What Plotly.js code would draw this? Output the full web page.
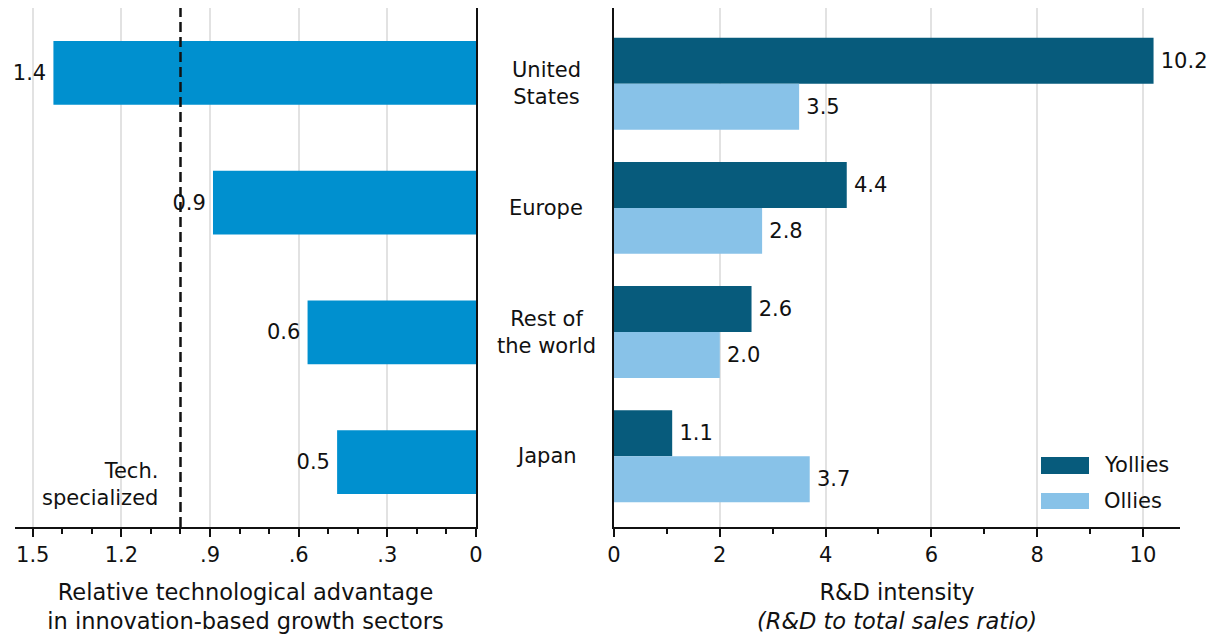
<!DOCTYPE html>
<html>
<head>
<meta charset="utf-8">
<script src="https://cdn.plot.ly/plotly-3.0.1.min.js"></script>
<style>html,body{margin:0;padding:0;background:#fff;}#chart{width:1213px;height:635px;}</style>
</head>
<body>
<div id="chart"></div>
<script>
// Left panel: relative technological advantage
const sectorPos = [0, 1, 2, 3];
const sectorValues = [1.43, 0.89, 0.57, 0.47];
const sectorLabels = ["1.4", "0.9", "0.6", "0.5"];
const leftTickVals = [1.5, 1.2, 0.9, 0.6, 0.3, 0];
const leftTickText = ["1.5", "1.2", ".9", ".6", ".3", "0"];

// Right panel: R&D intensity
const regions = ["United<br>States", "Europe", "Rest of<br>the world", "Japan"];
const regionPos = [0, 1, 2, 3];
const yollies = [10.2, 4.4, 2.6, 1.1];
const ollies = [3.5, 2.8, 2.0, 3.7];
const yolliesLabels = ["10.2", "4.4", "2.6", "1.1"];
const olliesLabels = ["3.5", "2.8", "2.0", "3.7"];
const rightTickVals = [0, 2, 4, 6, 8, 10];

const FONT = "DejaVu Sans, Noto Sans, sans-serif";
const INK = "#111111";
const C_LEFT = "#0090CF";
const C_DARK = "#075B7C";
const C_LIGHT = "#88C2E8";

const traces = [
  {
    type: "bar", orientation: "h", x: sectorValues, y: sectorPos,
    xaxis: "x", yaxis: "y", width: 0.49,
    marker: {color: C_LEFT},
    text: sectorLabels, texttemplate: "%{text}\u2009", textposition: "outside", cliponaxis: false, constraintext: "none",
    textfont: {family: FONT, size: 21, color: INK}, hoverinfo: "x"
  },
  {
    type: "bar", orientation: "h", name: "Yollies", x: yollies, y: regionPos,
    xaxis: "x2", yaxis: "y2", width: 0.37, offset: -0.37,
    marker: {color: C_DARK},
    text: yolliesLabels, texttemplate: "\u2009%{text}", textposition: "outside", cliponaxis: false, constraintext: "none",
    textfont: {family: FONT, size: 21, color: INK}, hoverinfo: "x"
  },
  {
    type: "bar", orientation: "h", name: "Ollies", x: ollies, y: regionPos,
    xaxis: "x2", yaxis: "y2", width: 0.37, offset: 0,
    marker: {color: C_LIGHT},
    text: olliesLabels, texttemplate: "\u2009%{text}", textposition: "outside", cliponaxis: false, constraintext: "none",
    textfont: {family: FONT, size: 21, color: INK}, hoverinfo: "x"
  }
];

const W = 1213, H = 635, ML = 15, MR = 33, MT = 8, MB = 108;
const PW = W - ML - MR, PH = H - MT - MB;
const px = v => (v - ML) / PW;
const py = v => 1 - (v - MT) / PH;

const axisCommon = {
  showline: true, linewidth: 2, linecolor: INK, zeroline: false,
  ticks: "outside", ticklen: 8, tickwidth: 2, tickcolor: INK,
  tickfont: {family: FONT, size: 21, color: INK},
  showgrid: true, gridcolor: "#e2e2e2", gridwidth: 2, fixedrange: true
};

const annotations = regions.map((r, i) => ({
  text: r, xref: "x2 domain", yref: "y2", x: (546 - 614) / (1180 - 614), y: regionPos[i],
  xanchor: "center", yanchor: "middle", align: "center", showarrow: false,
  font: {family: FONT, size: 21, color: INK}
}));
annotations.push({
  text: "Tech.<br>specialized", xref: "x", yref: "y", x: 1.07, y: 3.17,
  xanchor: "right", yanchor: "middle", align: "right", showarrow: false,
  font: {family: FONT, size: 21, color: INK}
});
annotations.push({
  text: "Yollies", xref: "paper", yref: "paper", x: px(1102), y: py(465),
  xanchor: "left", yanchor: "middle", showarrow: false,
  font: {family: FONT, size: 21, color: INK}
});
annotations.push({
  text: "Ollies", xref: "paper", yref: "paper", x: px(1102), y: py(501),
  xanchor: "left", yanchor: "middle", showarrow: false,
  font: {family: FONT, size: 21, color: INK}
});

const layout = {
  width: W, height: H,
  margin: {l: ML, r: MR, t: MT, b: MB},
  paper_bgcolor: "#ffffff", plot_bgcolor: "#ffffff",
  font: {family: FONT, size: 21, color: INK},
  showlegend: false,
  barmode: "overlay",
  xaxis: Object.assign({}, axisCommon, {
    domain: [0, (476 - ML) / PW], range: [1.56, 0], anchor: "y",
    tickmode: "array", tickvals: leftTickVals, ticktext: leftTickText,
    minor: {tickmode: "linear", tick0: 0, dtick: 0.1, ticks: "outside", ticklen: 5, tickwidth: 2, tickcolor: INK, showgrid: false},
    title: {text: "Relative technological advantage<br>in innovation-based growth sectors", standoff: 18,
            font: {family: FONT, size: 22.5, color: INK}}
  }),
  yaxis: {
    domain: [0, 1], range: [3.5, -0.5], anchor: "x", side: "right",
    showline: true, linewidth: 2, linecolor: INK, showticklabels: false, ticks: "",
    showgrid: false, zeroline: false, fixedrange: true
  },
  xaxis2: Object.assign({}, axisCommon, {
    domain: [(614 - ML) / PW, 1], range: [0, 10.7], anchor: "y2",
    tickmode: "array", tickvals: rightTickVals,
    minor: {tickmode: "linear", tick0: 0, dtick: 1, ticks: "outside", ticklen: 5, tickwidth: 2, tickcolor: INK, showgrid: false},
    title: {text: "R&D intensity<br><i>(R&D to total sales ratio)</i>", standoff: 18,
            font: {family: FONT, size: 22.5, color: INK}}
  }),
  yaxis2: {
    domain: [0, 1], range: [3.57, -0.61], anchor: "x2", side: "left",
    showline: true, linewidth: 2, linecolor: INK, showticklabels: false, ticks: "",
    showgrid: false, zeroline: false, fixedrange: true
  },
  shapes: [
    {type: "line", xref: "x", yref: "y domain", x0: 1, x1: 1, y0: 0, y1: 1,
     line: {color: INK, width: 2.5, dash: "10px,5px"}},
    {type: "rect", xref: "paper", yref: "paper", x0: px(1041), x1: px(1089), y0: py(474), y1: py(457),
     fillcolor: C_DARK, line: {width: 0}},
    {type: "rect", xref: "paper", yref: "paper", x0: px(1041), x1: px(1089), y0: py(509), y1: py(493),
     fillcolor: C_LIGHT, line: {width: 0}}
  ],
  annotations: annotations
};

Plotly.newPlot("chart", traces, layout, {displayModeBar: false, staticPlot: true});
</script>
</body>
</html>
